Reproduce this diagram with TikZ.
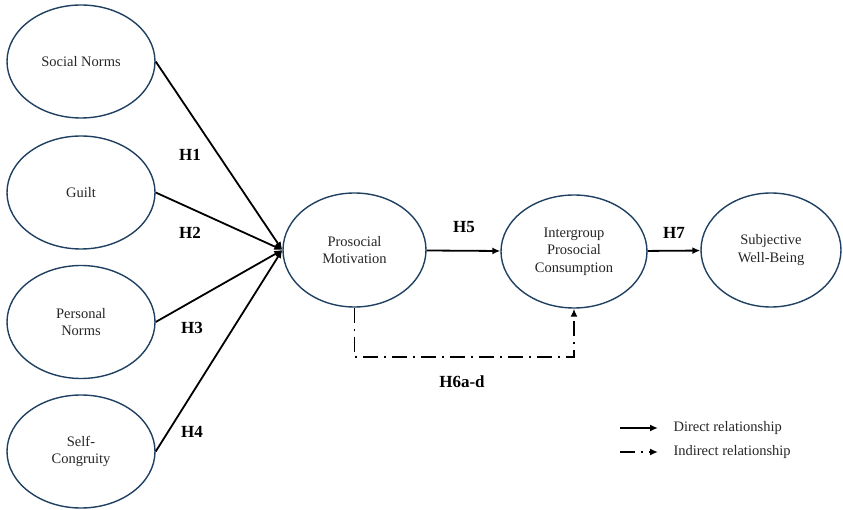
\documentclass[tikz,border=0pt]{standalone}
\usepackage{fontspec}
\setmainfont{Liberation Serif}
\usetikzlibrary{arrows.meta, calc, shapes.geometric}
\definecolor{ovalblue}{RGB}{31,64,96}

\begin{document}
\begin{tikzpicture}[x=1pt, y=-1pt,
    construct/.style={ellipse, draw=ovalblue, line width=1.4pt, inner sep=0pt,
        minimum width=148pt, minimum height=113pt, align=center,
        text=black!85, font=\fontsize{14.5}{17.5}\selectfont},
    hyp/.style={font=\fontsize{17}{20}\selectfont\bfseries},
    direct/.style={line width=1.8pt, -{Latex[length=8pt, width=7pt]}},
    indirect/.style={line width=1.8pt, dash pattern=on 15pt off 6pt on 2pt off 6pt,
        -{Latex[length=8pt, width=7pt]}},
    legtext/.style={anchor=west, font=\fontsize{14.5}{17.5}\selectfont, text=black!85}]

\useasboundingbox (0,0) rectangle (843,510);

% Antecedents
\node[construct] (social) at (81,61.5) {Social Norms};
\node[construct] (guilt) at (81,192.5) {Guilt};
\node[construct] (personal) at (81,322) {Personal\\Norms};
\node[construct] (congruity) at (81,451.5) {Self-\\Congruity};

% Mediator and outcomes
\node[construct, minimum width=143pt, minimum height=114pt] (motivation) at (354.5,250) {Prosocial\\Motivation};
\node[construct, minimum width=146pt] (consumption) at (574,251.5) {Intergroup\\Prosocial\\Consumption};
\node[construct, minimum width=140pt, minimum height=114pt] (wellbeing) at (771,250) {Subjective\\Well-Being};

% Direct paths
\draw[direct] (social.east) -- (motivation.west);
\draw[direct] (guilt.east) -- (motivation.west);
\draw[direct] (personal.east) -- (motivation.west);
\draw[direct] (congruity.east) -- (motivation.west);
\draw[direct] (motivation) -- (consumption);
\draw[direct] (consumption) -- (wellbeing);

\node[hyp] (h1) at (190,155) {H1};
\node[hyp] (h2) at (190,233) {H2};
\node[hyp] (h3) at (192,328) {H3};
\node[hyp] (h4) at (192,432) {H4};
\node[hyp] (h5) at (464,227) {H5};
\node[hyp] (h7) at (674,233) {H7};

% Indirect path
\coordinate (bend) at (354.5,357);
\draw[indirect] (motivation.south) -- (bend) -| (consumption.south);
\node[hyp] (h6) at (462,382) {H6a-d};

% Legend
\coordinate (leg1a) at (620,428);
\coordinate (leg1b) at (658,428);
\coordinate (leg2a) at (620,452);
\coordinate (leg2b) at (658,452);
\draw[direct] (leg1a) -- (leg1b);
\draw[indirect] (leg2a) -- (leg2b);
\node[legtext] (legdirect) at (670,428) {Direct relationship};
\node[legtext] (legindirect) at (670,452) {Indirect relationship};

\end{tikzpicture}
\end{document}
